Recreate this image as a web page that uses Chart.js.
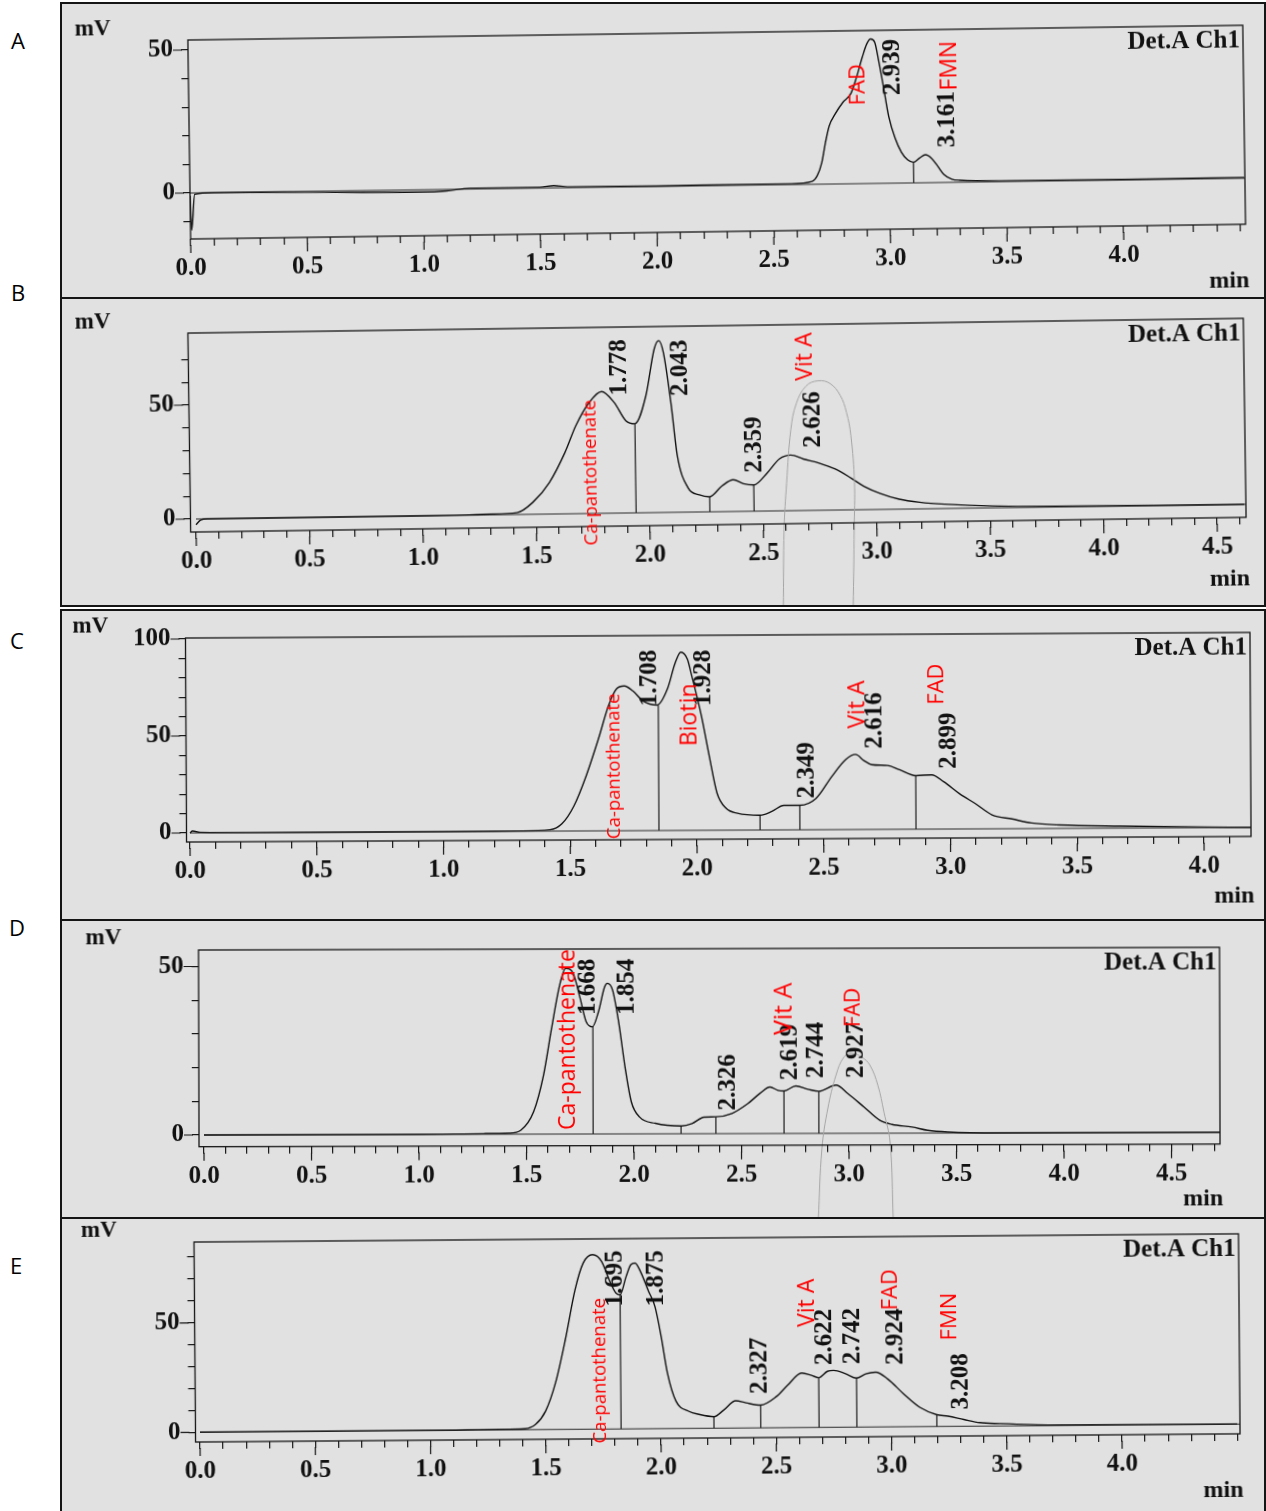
<!DOCTYPE html>
<html>
<head>
<meta charset="utf-8">
<script src="https://cdn.jsdelivr.net/npm/chart.js@4.4.1/dist/chart.umd.min.js"></script>
<style>
  html, body { margin: 0; padding: 0; background: #fff; }
  #page { position: relative; width: 1266px; height: 1511px; overflow: hidden; background: #fff; }
  .panel { position: absolute; left: 60px; width: 1206px; box-sizing: border-box; border: 2px solid #151515; background: #e1e1e1; overflow: hidden; }
  .panel canvas { position: absolute; left: -22px; top: -22px; }
  .tag { position: absolute; width: 30px; text-align: center; font: 22px "Open Sans", sans-serif; line-height: 24px; color: #000; }
</style>
</head>
<body>
<div id="page">
  <div class="tag" style="left:3px;top:28px">A</div>
  <div class="tag" style="left:3px;top:280px">B</div>
  <div class="tag" style="left:2px;top:628px">C</div>
  <div class="tag" style="left:2px;top:915px">D</div>
  <div class="tag" style="left:1px;top:1253px">E</div>
  <div class="panel" style="top:2px;height:297px"><canvas id="chartA"></canvas></div>
  <div class="panel" style="top:297px;height:310px"><canvas id="chartB"></canvas></div>
  <div class="panel" style="top:609px;height:312px"><canvas id="chartC"></canvas></div>
  <div class="panel" style="top:919px;height:300px"><canvas id="chartD"></canvas></div>
  <div class="panel" style="top:1217px;height:300px"><canvas id="chartE"></canvas></div>
</div>
<script>
// ---- chromatogram A ----
const timeA = [0, 0.005, 0.02, 0.1, 0.5, 1.0, 1.1, 1.2, 1.5, 1.56, 1.62, 2.0, 2.4, 2.58, 2.667, 2.69, 2.71, 2.727, 2.744, 2.77, 2.804, 2.838, 2.864, 2.89, 2.91, 2.927, 2.944, 2.961, 2.978, 3.0, 3.026, 3.052, 3.078, 3.103, 3.13, 3.155, 3.18, 3.207, 3.233, 3.267, 3.3, 3.5, 4.0, 4.52];
const mvA = [-1, -13, -0.5, 0, -0.3, -0.8, -0.5, 0.3, 0.3, 0.8, 0.3, 0.2, 0.3, 0.3, 1, 3, 7.5, 14.5, 20.3, 24.4, 28.5, 31.4, 37.2, 44.2, 48.8, 50.5, 49.4, 42.4, 34.3, 23.3, 15.7, 10.8, 8.1, 7.2, 8.7, 9.8, 8.6, 5.7, 2.8, 1.1, 0.7, 0.3, 0.2, 0.3];
const dropTA = [3.103];
const dropVA = [7.2];
const peakTextA = ['2.939', '3.161'];
const peakTA = [3.022, 3.25];
const peakVA = [30.8, 12.2];
const nameTextA = ['FAD', 'FMN'];
const nameTA = [2.873, 3.263];
const nameVA = [27.4, 32.1];
const yTicksA = [-10, 0, 10, 20, 30, 40, 50];
const yTextA = ['', '0', '', '', '', '', '50'];
const xTextA = ['0.0', '0.5', '1.0', '1.5', '2.0', '2.5', '3.0', '3.5', '4.0'];

// ---- chromatogram B ----
const timeB = [0, 0.02, 0.05, 0.5, 1.0, 1.3, 1.415, 1.485, 1.56, 1.63, 1.68, 1.74, 1.795, 1.85, 1.90, 1.94, 1.99, 2.03, 2.05, 2.07, 2.10, 2.125, 2.17, 2.22, 2.265, 2.32, 2.37, 2.415, 2.46, 2.52, 2.575, 2.625, 2.68, 2.75, 2.82, 2.89, 2.945, 3.015, 3.10, 3.19, 3.30, 3.72, 4.62];
const mvB = [-2.5, -0.5, 0, 0, 0, 0.3, 0.8, 5.2, 13.9, 26.9, 38.7, 48.7, 53.4, 48.5, 40.5, 39.1, 51.3, 71.9, 75.4, 70, 48, 24.8, 10.7, 7.5, 6.6, 11.3, 13.9, 12.1, 11.5, 16.7, 22.8, 24.4, 22.6, 20.7, 18, 13.9, 10.3, 7.1, 4.4, 2.9, 1.9, 0.3, 0];
const ghostTB = [2.583, 2.591, 2.605, 2.627, 2.653, 2.697, 2.75, 2.803, 2.847, 2.873, 2.891, 2.904, 2.9, 2.891];
const ghostVB = [-42.8, -8.1, 12.1, 35.7, 47.1, 54.6, 56.8, 55.5, 50.2, 42.8, 32.7, 12.1, -8.1, -42.8];
const dropTB = [1.94, 2.265, 2.46];
const dropVB = [39.1, 6.6, 11.5];
const peakTextB = ['1.778', '2.043', '2.359', '2.626'];
const peakTB = [1.877, 2.146, 2.464, 2.728];
const peakVB = [51.5, 51, 16.9, 27.5];
const nameTextB = ['Ca-pantothenate', 'Vit A'];
const nameTB = [1.745, 2.697];
const nameVB = [-14, 56.9];
const yTicksB = [0, 10, 20, 30, 40, 50, 60, 70];
const yTextB = ['0', '', '', '', '', '50', '', ''];
const xTextB = ['0.0', '0.5', '1.0', '1.5', '2.0', '2.5', '3.0', '3.5', '4.0', '4.5'];

// ---- chromatogram C ----
const timeC = [0, 0.01, 0.04, 0.5, 1.0, 1.3, 1.42, 1.467, 1.515, 1.564, 1.613, 1.653, 1.685, 1.716, 1.75, 1.79, 1.846, 1.886, 1.917, 1.94, 1.966, 1.98, 2.02, 2.05, 2.08, 2.115, 2.16, 2.249, 2.296, 2.343, 2.406, 2.47, 2.533, 2.588, 2.627, 2.66, 2.69, 2.753, 2.80, 2.864, 2.927, 2.974, 3.037, 3.10, 3.164, 3.243, 3.32, 3.43, 3.67, 4.185];
const mvC = [0, 1, 0.3, 0, 0, 0.2, 0.7, 3.7, 12.9, 28.4, 47.4, 64.3, 73.1, 74.6, 72, 66.8, 64.7, 72.9, 86.2, 91.9, 88.2, 81, 58.8, 38.2, 19.1, 11.3, 8.7, 7.6, 9.6, 12.6, 12.6, 16.1, 27.4, 36.1, 38.7, 35.5, 33.4, 32.9, 30.7, 27.6, 28, 24.4, 18.1, 12.9, 7.2, 5, 2.9, 1.8, 1, 0];
const dropTC = [1.85, 2.249, 2.406, 2.864];
const dropVC = [64.7, 7.6, 12.6, 27.6];
const peakTextC = ['1.708', '1.928', '2.349', '2.616', '2.899'];
const peakTC = [1.815, 2.03, 2.438, 2.706, 2.998];
const peakVC = [64.2, 64, 16.2, 41.6, 31];
const nameTextC = ['Ca-pantothenate', 'Biotin', 'Vit A', 'FAD'];
const nameTC = [1.677, 1.976, 2.635, 2.95];
const nameVC = [-4.2, 43.4, 52, 64.1];
const yTicksC = [0, 10, 20, 30, 40, 50, 60, 70, 80, 90, 100];
const yTextC = ['0', '', '', '', '', '50', '', '', '', '', '100'];
const xTextC = ['0.0', '0.5', '1.0', '1.5', '2.0', '2.5', '3.0', '3.5', '4.0'];

// ---- chromatogram D ----
const timeD = [0, 0.5, 1.0, 1.3, 1.419, 1.474, 1.533, 1.58, 1.618, 1.656, 1.684, 1.719, 1.751, 1.779, 1.808, 1.836, 1.865, 1.878, 1.902, 1.93, 1.96, 1.988, 2.026, 2.1, 2.22, 2.27, 2.326, 2.381, 2.456, 2.53, 2.586, 2.633, 2.67, 2.698, 2.753, 2.81, 2.86, 2.94, 2.995, 3.07, 3.144, 3.2, 3.293, 3.367, 3.46, 3.7, 4.726];
const mvD = [0, 0, 0, 0.2, 0.3, 1.2, 6.6, 17.5, 31.4, 44.2, 49.2, 47.7, 40.3, 33.3, 31.8, 36.2, 43.6, 44.7, 42.7, 33.2, 19.5, 9.5, 5, 3.1, 2.3, 3, 4.9, 5, 6, 8.9, 11.9, 13.8, 12.8, 12.6, 14.1, 13.1, 12.5, 14.3, 11.8, 7.8, 3.8, 2.6, 1.8, 0.8, 0.3, 0, 0];
const ghostTD = [2.856, 2.874, 2.902, 2.94, 2.977, 3.014, 3.06, 3.098, 3.135, 3.163, 3.191, 3.205];
const ghostVD = [-25.8, -4.5, 7.4, 17.2, 22.6, 23.7, 22.6, 20.2, 14.2, 6.2, -2.7, -25.8];
const dropTD = [1.81, 2.219, 2.381, 2.698, 2.86];
const dropVD = [31.8, 2.3, 5, 12.6, 12.5];
const peakTextD = ['1.668', '1.854', '2.326', '2.619', '2.744', '2.927'];
const peakTD = [1.79, 1.972, 2.442, 2.73, 2.851, 3.033];
const peakVD = [35.3, 35.3, 6.9, 15.8, 16.4, 16.4];
const nameTextD = ['Ca-pantothenate', 'Vit A', 'FAD'];
const nameTD = [1.693, 2.702, 3.023];
const nameVD = [1.2, 29.2, 31.5];
const yTicksD = [0, 10, 20, 30, 40, 50];
const yTextD = ['0', '', '', '', '', '50'];
const xTextD = ['0.0', '0.5', '1.0', '1.5', '2.0', '2.5', '3.0', '3.5', '4.0', '4.5'];

// ---- chromatogram E ----
const timeE = [0, 0.5, 1.0, 1.3, 1.411, 1.456, 1.5, 1.544, 1.588, 1.632, 1.668, 1.709, 1.748, 1.783, 1.809, 1.827, 1.854, 1.875, 1.893, 1.916, 1.951, 1.978, 2.004, 2.03, 2.066, 2.12, 2.169, 2.23, 2.273, 2.325, 2.369, 2.433, 2.5, 2.551, 2.612, 2.655, 2.686, 2.724, 2.751, 2.803, 2.85, 2.89, 2.933, 2.985, 3.054, 3.124, 3.197, 3.245, 3.314, 3.384, 3.47, 3.7, 4.5];
const mvE = [0, 0, 0, 0.3, 0.5, 2.4, 8.4, 21.3, 41, 63.8, 75.9, 79.7, 76.6, 67.4, 62.1, 61.3, 69.6, 75, 75.7, 71.9, 62.7, 55.8, 42, 25.3, 12.5, 7.9, 6.3, 5.3, 8.3, 12.5, 11.5, 10.4, 14.1, 19.4, 24.9, 23.8, 22.7, 25.6, 26, 24.4, 22.4, 24.3, 25, 21.9, 15, 8.8, 5.4, 4.7, 3.1, 1.6, 1.1, 0.3, 0];
const dropTE = [1.827, 2.23, 2.433, 2.686, 2.85, 3.197];
const dropVE = [61.3, 5.3, 10.4, 22.7, 22.4, 5.4];
const peakTextE = ['1.695', '1.875', '2.327', '2.622', '2.742', '2.924', '3.208'];
const peakTE = [1.805, 1.983, 2.43, 2.716, 2.837, 3.02, 3.306];
const peakVE = [56, 55.8, 15.6, 28.5, 28.8, 28.3, 7.7];
const nameTextE = ['Ca-pantothenate', 'Vit A', 'FAD', 'FMN'];
const nameTE = [1.74, 2.638, 3.002, 3.258];
const nameVE = [-6.5, 45.9, 53.2, 39.2];
const yTicksE = [0, 10, 20, 30, 40, 50, 60, 70, 80];
const yTextE = ['0', '', '', '', '', '50', '', '', ''];
const xTextE = ['0.0', '0.5', '1.0', '1.5', '2.0', '2.5', '3.0', '3.5', '4.0'];

const M = 20;          // canvas margin around each panel
const YW = 100, XH = 60;
const serif = '"Liberation Serif", "Times New Roman", serif';
const sans = '"Open Sans", "Noto Sans", sans-serif';
Chart.defaults.font.family = serif;

function xLabelFor(v, labels) {
  const i = Math.round(v / 0.5);
  if (Math.abs(v - i * 0.5) < 1e-6 && i >= 0 && i < labels.length) return labels[i];
  return '';
}

function makeDecor(g, d) {
  return {
    id: 'decor' + g.id,
    afterDraw(chart) {
      const { ctx, chartArea: a } = chart;
      const x = chart.scales.x, y = chart.scales.y;
      ctx.save();
      ctx.strokeStyle = '#141414';
      ctx.lineWidth = 1.3;
      ctx.strokeRect(a.left, a.top, a.right - a.left, a.bottom - a.top);

      // longer marks for the labelled ticks
      ctx.lineWidth = 1.2;
      ctx.beginPath();
      x.ticks.forEach((t, i) => {
        if (t.label) {
          const px = x.getPixelForTick(i);
          ctx.moveTo(px, a.bottom + 6);
          ctx.lineTo(px, a.bottom + 14);
        }
      });
      y.ticks.forEach((t, i) => {
        if (t.label) {
          const py = y.getPixelForTick(i);
          ctx.moveTo(a.left - 6, py);
          ctx.lineTo(a.left - 15, py);
        }
      });
      ctx.stroke();

      ctx.fillStyle = '#111';
      ctx.textBaseline = 'middle';
      ctx.textAlign = 'center';
      ctx.font = 'bold 23px ' + serif;
      ctx.fillText('mV', a.left - 95, a.top - 12);
      ctx.textAlign = 'right';
      ctx.font = 'bold 25px ' + serif;
      ctx.fillText('Det.A Ch1', a.right - 3, a.top + 16);
      ctx.font = 'bold 24px ' + serif;
      ctx.fillText('min', a.right + 3, a.bottom + g.minDy);

      const put = (text, t, v, font, color) => {
        ctx.save();
        ctx.translate(x.getPixelForValue(t), y.getPixelForValue(v));
        ctx.rotate(-Math.PI / 2);
        ctx.font = font;
        ctx.fillStyle = color;
        ctx.textAlign = 'left';
        ctx.textBaseline = 'middle';
        ctx.fillText(text, 0, 0);
        ctx.restore();
      };
      d.peakText.forEach((s, i) => put(s, d.peakT[i], d.peakV[i], 'bold 25px ' + serif, '#111'));
      d.nameText.forEach((s, i) => put(s, d.nameT[i], d.nameV[i], g.nameSize[i] + 'px ' + sans, '#ff0000'));
      ctx.restore();
    }
  };
}

function buildChart(g, d) {
  const canvas = document.getElementById('chart' + g.id);
  const W = 1206 + 2 * M, H = g.h + 2 * M;
  canvas.width = W;
  canvas.height = H;
  canvas.style.width = W + 'px';
  canvas.style.height = H + 'px';

  const left = g.boxL - 60 + M, right = g.boxR - 60 + M;
  const top = g.boxT - g.top + M, bottom = g.axisY - g.top + M;
  const xMin = (g.boxL - g.x0) / g.ppx, xMax = (g.boxR - g.x0) / g.ppx;
  const yMax = (g.y0 - g.boxT) / g.ppy, yMin = (g.y0 - g.axisY) / g.ppy;

  const trace = d.time.map((t, i) => ({ x: t, y: d.mv[i] }));
  const drops = [];
  d.dropT.forEach((t, i) => {
    drops.push({ x: t, y: 0 }, { x: t, y: d.dropV[i] }, { x: t, y: null });
  });

  const datasets = [];
  if (d.ghostT) {
    datasets.push({
      data: d.ghostT.map((t, i) => ({ x: t, y: d.ghostV[i] })),
      borderColor: '#a5a5a5', borderWidth: 1, pointRadius: 0, tension: 0.4, clip: false
    });
  }
  datasets.push(
    { data: [{ x: 0, y: 0 }, { x: xMax, y: 0 }], borderColor: '#2a2a2a', borderWidth: 1.1, pointRadius: 0 },
    { data: drops, borderColor: '#1a1a1a', borderWidth: 1.2, pointRadius: 0, spanGaps: false },
    { data: trace, borderColor: '#111', borderWidth: 1.4, pointRadius: 0, cubicInterpolationMode: 'monotone' }
  );

  const tickFont = { family: 'Liberation Serif', size: 25, weight: 'bold', lineHeight: 1.2 };

  new Chart(canvas, {
    type: 'line',
    data: { datasets },
    options: {
      responsive: false,
      animation: false,
      events: [],
      layout: { padding: { left: left - YW, right: W - right, top: top, bottom: H - bottom - XH } },
      plugins: { legend: { display: false }, tooltip: { enabled: false } },
      scales: {
        x: {
          type: 'linear', min: xMin, max: xMax,
          border: { display: false },
          grid: { drawOnChartArea: false, drawTicks: true, tickLength: 7, color: '#141414', lineWidth: 1.2 },
          ticks: {
            stepSize: 0.1, autoSkip: false, maxRotation: 0, minRotation: 0, includeBounds: false,
            padding: 8, color: '#111', font: tickFont,
            callback: (v) => xLabelFor(v, d.xText)
          },
          afterBuildTicks: (s) => { s.ticks = s.ticks.filter(t => t.value > -1e-9 && t.value <= g.lastTick + 1e-6); },
          afterFit: (s) => { s.height = XH; }
        },
        y: {
          type: 'linear', min: yMin, max: yMax,
          border: { display: false },
          grid: { drawOnChartArea: false, drawTicks: true, tickLength: 7, color: '#141414', lineWidth: 1.2 },
          ticks: {
            autoSkip: false, padding: 8, color: '#111', font: tickFont,
            callback: (v, i) => d.yText[i]
          },
          afterBuildTicks: (s) => { s.ticks = d.yTicks.map(v => ({ value: v })); },
          afterFit: (s) => { s.width = YW; }
        }
      }
    },
    plugins: [makeDecor(g, d)]
  });

  // follow the slight tilt of the scanned print
  canvas.style.transformOrigin = (g.x0 - 60 + M) + 'px ' + (g.y0 - g.top + M) + 'px';
  canvas.style.transform = 'rotate(' + (-g.rot) + 'deg)';
}

buildChart(
  { id: 'A', top: 2, h: 297, boxL: 190, boxT: 40, boxR: 1245, axisY: 239, x0: 190, ppx: 233.25, y0: 193, ppy: 2.86, rot: 0.8, lastTick: 4.5, minDy: 57, nameSize: [22, 23] },
  { time: timeA, mv: mvA, dropT: dropTA, dropV: dropVA, peakText: peakTextA, peakT: peakTA, peakV: peakVA,
    nameText: nameTextA, nameT: nameTA, nameV: nameVA, yTicks: yTicksA, yText: yTextA, xText: xTextA }
);
buildChart(
  { id: 'B', top: 297, h: 310, boxL: 190.5, boxT: 333, boxR: 1246, axisY: 532, x0: 196, ppx: 226.9, y0: 519, ppy: 2.28, rot: 0.8, lastTick: 4.6, minDy: 62, nameSize: [18.5, 23] },
  { time: timeB, mv: mvB, ghostT: ghostTB, ghostV: ghostVB, dropT: dropTB, dropV: dropVB, peakText: peakTextB, peakT: peakTB, peakV: peakVB,
    nameText: nameTextB, nameT: nameTB, nameV: nameVB, yTicks: yTicksB, yText: yTextB, xText: xTextB }
);
buildChart(
  { id: 'C', top: 609, h: 312, boxL: 186.5, boxT: 638, boxR: 1251, axisY: 842, x0: 190, ppx: 253.5, y0: 833, ppy: 1.94, rot: 0.3, lastTick: 4.1, minDy: 60, nameSize: [18.5, 23, 23, 22] },
  { time: timeC, mv: mvC, dropT: dropTC, dropV: dropVC, peakText: peakTextC, peakT: peakTC, peakV: peakVC,
    nameText: nameTextC, nameT: nameTC, nameV: nameVC, yTicks: yTicksC, yText: yTextC, xText: xTextC }
);
buildChart(
  { id: 'D', top: 919, h: 300, boxL: 199, boxT: 950, boxR: 1220, axisY: 1146.7, x0: 204, ppx: 215, y0: 1135, ppy: 3.37, rot: 0.15, lastTick: 4.7, minDy: 55, nameSize: [23, 25, 21] },
  { time: timeD, mv: mvD, ghostT: ghostTD, ghostV: ghostVD, dropT: dropTD, dropV: dropVD, peakText: peakTextD, peakT: peakTD, peakV: peakVD,
    nameText: nameTextD, nameT: nameTD, nameV: nameVD, yTicks: yTicksD, yText: yTextD, xText: xTextD }
);
buildChart(
  { id: 'E', top: 1217, h: 300, boxL: 195.5, boxT: 1242, boxR: 1240, axisY: 1442, x0: 200, ppx: 230.5, y0: 1432.3, ppy: 2.19, rot: 0.45, lastTick: 4.5, minDy: 57, nameSize: [18.5, 23, 22, 22] },
  { time: timeE, mv: mvE, dropT: dropTE, dropV: dropVE, peakText: peakTextE, peakT: peakTE, peakV: peakVE,
    nameText: nameTextE, nameT: nameTE, nameV: nameVE, yTicks: yTicksE, yText: yTextE, xText: xTextE }
);
</script>
</body>
</html>
